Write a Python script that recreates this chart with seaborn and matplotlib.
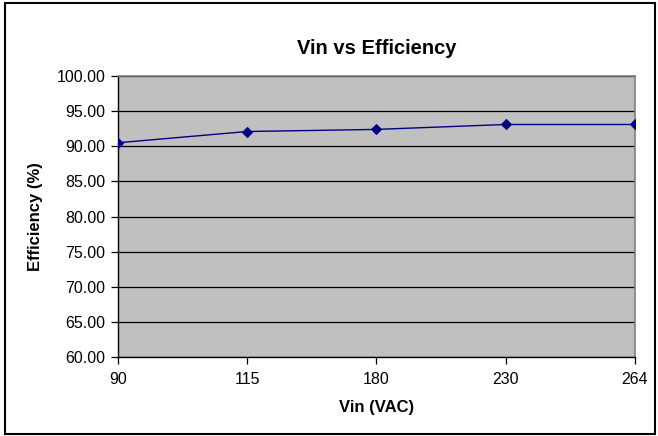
import pandas as pd
import seaborn as sns
import matplotlib.pyplot as plt
from matplotlib.patches import Rectangle

# values
vin = ["90", "115", "180", "230", "264"]
efficiency = [90.5, 92.1, 92.4, 93.1, 93.1]
y_ticks = [60, 65, 70, 75, 80, 85, 90, 95, 100]

df = pd.DataFrame({"Vin (VAC)": vin, "Efficiency (%)": efficiency})

sns.set_theme(style="white")
plt.rcParams['font.family'] = ['Liberation Sans', 'DejaVu Sans']
plt.rcParams['text.color'] = 'black'
plt.rcParams['axes.labelcolor'] = 'black'

fig = plt.figure(figsize=(6.58, 4.36), dpi=100)
ax = fig.add_axes([0.1793, 0.181, 0.7857, 0.6447])
ax.set_facecolor("#C0C0C0")

sns.lineplot(data=df, x="Vin (VAC)", y="Efficiency (%)", ax=ax,
             color="#000080", linewidth=1.0, marker="D", markersize=5,
             markeredgecolor="#000080", sort=False, zorder=3)

ax.set_ylim(60, 100)
ax.set_xlim(0, len(vin) - 1)
ax.set_yticks(y_ticks)
ax.set_yticklabels(["%.2f" % t for t in y_ticks])
ax.yaxis.grid(True, color="black", linewidth=0.9)
ax.set_axisbelow(True)

for s in ["top", "right"]:
    ax.spines[s].set_color("#808080")
    ax.spines[s].set_linewidth(1.2)
for s in ["left", "bottom"]:
    ax.spines[s].set_color("black")
    ax.spines[s].set_linewidth(1.0)

ax.tick_params(axis="both", which="both", direction="out", length=5, width=0.9,
               color="black", labelsize=11.5, labelcolor="black",
               left=True, bottom=True, pad=4)
ax.tick_params(axis="x", pad=6)

ax.set_xlabel("Vin (VAC)", fontsize=12, fontweight="bold", labelpad=9, color="black")
ax.set_ylabel("Efficiency (%)", fontsize=12, fontweight="bold", labelpad=10, color="black")
ax.set_title("Vin vs Efficiency", fontsize=14.5, fontweight="bold", pad=16, color="black")

# outer chart border
fig.patches.append(Rectangle((0.007, 0.004), 0.988, 0.99, transform=fig.transFigure,
                             fill=False, edgecolor="black", linewidth=1.5))

plt.savefig("out.png", dpi=100)
